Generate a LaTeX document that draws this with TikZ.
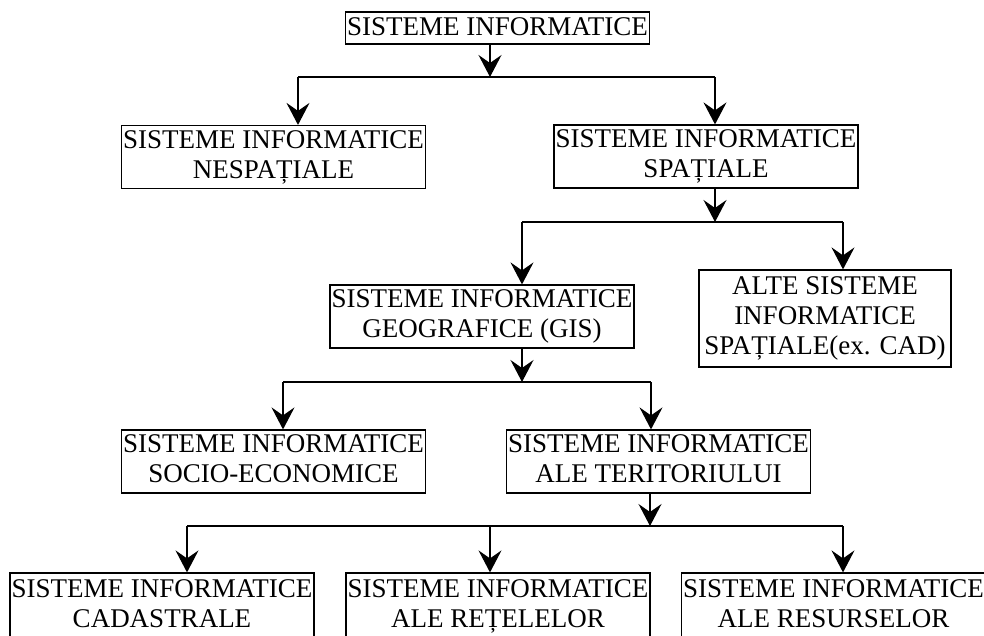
\documentclass[tikz,border=0pt]{standalone}
\usepackage{fontspec}
\setmainfont{Liberation Serif}
\usetikzlibrary{arrows.meta}

\newcommand{\boxstrut}{\rule[-5pt]{0pt}{25pt}}

\tikzset{
  sisbox/.style={draw, line width=1.2pt, align=center, inner sep=0pt,
    minimum width=304pt, minimum height=63pt,
    font=\fontsize{27}{30}\selectfont,
    execute at begin node=\boxstrut, execute at end node=\boxstrut},
  ln/.style={line width=1.2pt},
  arr/.style={line width=1.2pt, -{Stealth[length=22pt,width=23pt,inset=8pt]}}
}

\begin{document}
\begin{tikzpicture}[x=1pt,y=-1pt]
	\clip (0,0) rectangle (984,635);
	
	% Define the boxes
	\node[sisbox, minimum height=32pt] (top) at (497.5,28) {SISTEME INFORMATICE};
	\node[sisbox] (nesp) at (273.5,157) {SISTEME INFORMATICE\\NESPAȚIALE};
	\node[sisbox] (spat) at (706,156.5) {SISTEME INFORMATICE\\SPAȚIALE};
	\node[sisbox] (gis) at (482,316.5) {SISTEME INFORMATICE\\GEOGRAFICE (GIS)};
	\node[sisbox, minimum width=252pt, minimum height=97pt] (alte) at (825,318.5) {ALTE SISTEME\\INFORMATICE\\SPAȚIALE(ex. CAD)};
	\node[sisbox] (socio) at (273.5,461.5) {SISTEME INFORMATICE\\SOCIO-ECONOMICE};
	\node[sisbox] (terit) at (658.5,461.5) {SISTEME INFORMATICE\\ALE TERITORIULUI};
	\node[sisbox, minimum height=66pt] (cad) at (162,606) {SISTEME INFORMATICE\\CADASTRALE};
	\node[sisbox, minimum height=66pt] (ret) at (498,606) {SISTEME INFORMATICE\\ALE REȚELELOR};
	\node[sisbox, minimum height=66pt] (res) at (833.5,606) {SISTEME INFORMATICE\\ALE RESURSELOR};
	
	% Define the branching points
	\coordinate (s1) at (490,77);
	\coordinate (s1l) at (298,77);
	\coordinate (s1r) at (715,77);
	\coordinate (s2) at (715,222);
	\coordinate (s2l) at (522,222);
	\coordinate (s2r) at (843,222);
	\coordinate (s3) at (522,382);
	\coordinate (s3l) at (283,382);
	\coordinate (s3r) at (651,382);
	\coordinate (s4) at (650,526);
	\coordinate (s4l) at (187,526);
	\coordinate (s4m) at (490,526);
	\coordinate (s4r) at (843,526);
	
	% Draw the first level
	\draw[arr] (top.south -| s1) -- (s1);
	\draw[ln] (s1l) -- (s1r);
	\draw[arr] (s1l) -- (nesp.north -| s1l);
	\draw[arr] (s1r) -- (spat.north -| s1r);
	
	% Draw the second level
	\draw[arr] (spat.south -| s2) -- (s2);
	\draw[ln] (s2l) -- (s2r);
	\draw[arr] (s2l) -- (gis.north -| s2l);
	\draw[arr] (s2r) -- (alte.north -| s2r);
	
	% Draw the third level
	\draw[arr] (gis.south -| s3) -- (s3);
	\draw[ln] (s3l) -- (s3r);
	\draw[arr] (s3l) -- (socio.north -| s3l);
	\draw[arr] (s3r) -- (terit.north -| s3r);
	
	% Draw the fourth level
	\draw[arr] (terit.south -| s4) -- (s4);
	\draw[ln] (s4l) -- (s4r);
	\draw[arr] (s4l) -- (cad.north -| s4l);
	\draw[arr] (s4m) -- (ret.north -| s4m);
	\draw[arr] (s4r) -- (res.north -| s4r);
\end{tikzpicture}
\end{document}
